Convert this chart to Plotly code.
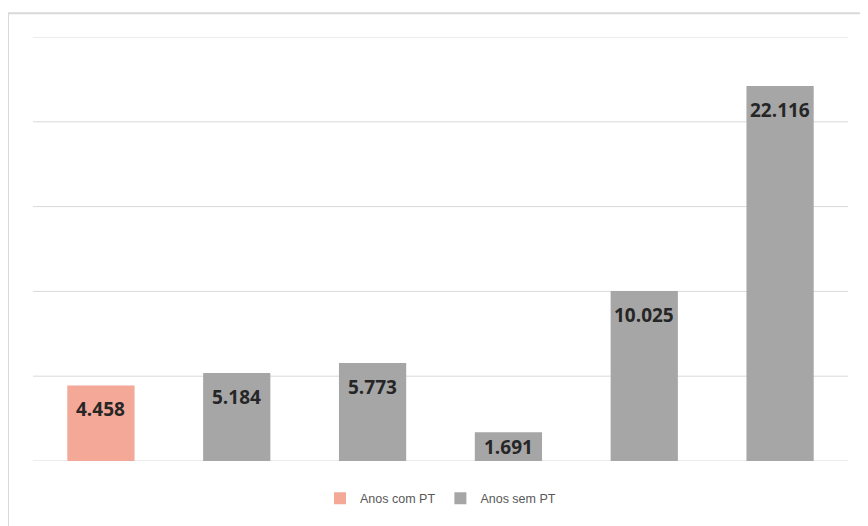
import plotly.graph_objects as go

categories = ["P1", "P2", "P3", "P4", "P5", "P6"]
values = [4458, 5184, 5773, 1691, 10025, 22116]
with_pt = [True, False, False, False, False, False]
series_names = ["Anos com PT", "Anos sem PT"]
colors = {"Anos com PT": "#F4A898", "Anos sem PT": "#A6A6A6"}
grid_vals = [0, 5000, 10000, 15000, 20000, 25000]

# page body has an 8px margin, so the figure is drawn 8px in from the window edge
OFF = 8
W, H = 868 - OFF, 526 - OFF
ml, mt = 33 - OFF, 37 - OFF
pw, ph = 815, 427
mr, mb = W - ml - pw, H - mt - ph
YMAX = 25000

fig = go.Figure()
for name, flag in zip(series_names, [True, False]):
    xs = [c for c, w in zip(categories, with_pt) if w == flag]
    ys = [v for v, w in zip(values, with_pt) if w == flag]
    fig.add_trace(go.Bar(
        x=xs, y=ys, name=name,
        marker=dict(color=colors[name], line=dict(width=0)),
        hoverinfo="skip",
    ))

annotations = []
for c, v in zip(categories, values):
    bar_px = v / YMAX * ph
    shift = -min(24, bar_px / 2)
    annotations.append(dict(
        x=c, y=v, xref="x", yref="y",
        text=f"{v:,}".replace(",", "."),
        showarrow=False, yanchor="middle", yshift=shift,
        font=dict(family="Open Sans", size=19, color="#262626", weight="bold"),
    ))

shapes = [dict(
    type="line", xref="paper", yref="y", x0=0, x1=1, y0=g, y1=g,
    line=dict(color="#D9D9D9", width=1), layer="below",
) for g in grid_vals]
shapes.append(dict(
    type="rect", xref="paper", yref="paper",
    x0=(8 - 33) / pw, x1=(864 - 33) / pw,
    y0=-(540 - 463) / ph, y1=(463 - 12) / ph,
    line=dict(color="#D9D9D9", width=2), fillcolor="rgba(0,0,0,0)",
    layer="below",
))

fig.update_layout(
    width=W, height=H,
    margin=dict(l=ml, r=mr, t=mt, b=mb),
    paper_bgcolor="white", plot_bgcolor="white",
    barmode="overlay",
    bargap=0.505,
    showlegend=True,
    legend=dict(
        orientation="h", x=0.5, xanchor="center",
        y=-(502 - 464) / ph, yanchor="middle",
        font=dict(family="Liberation Sans", size=12.5, color="#595959"),
        itemwidth=30, traceorder="normal",
    ),
    xaxis=dict(
        type="category", categoryorder="array", categoryarray=categories,
        showticklabels=False, showgrid=False, showline=False, ticks="",
        zeroline=False,
    ),
    yaxis=dict(
        range=[0, YMAX], showticklabels=False,
        showgrid=False, zeroline=False, showline=False, ticks="",
    ),
    annotations=annotations,
    shapes=shapes,
)

fig.write_html("out.html")
